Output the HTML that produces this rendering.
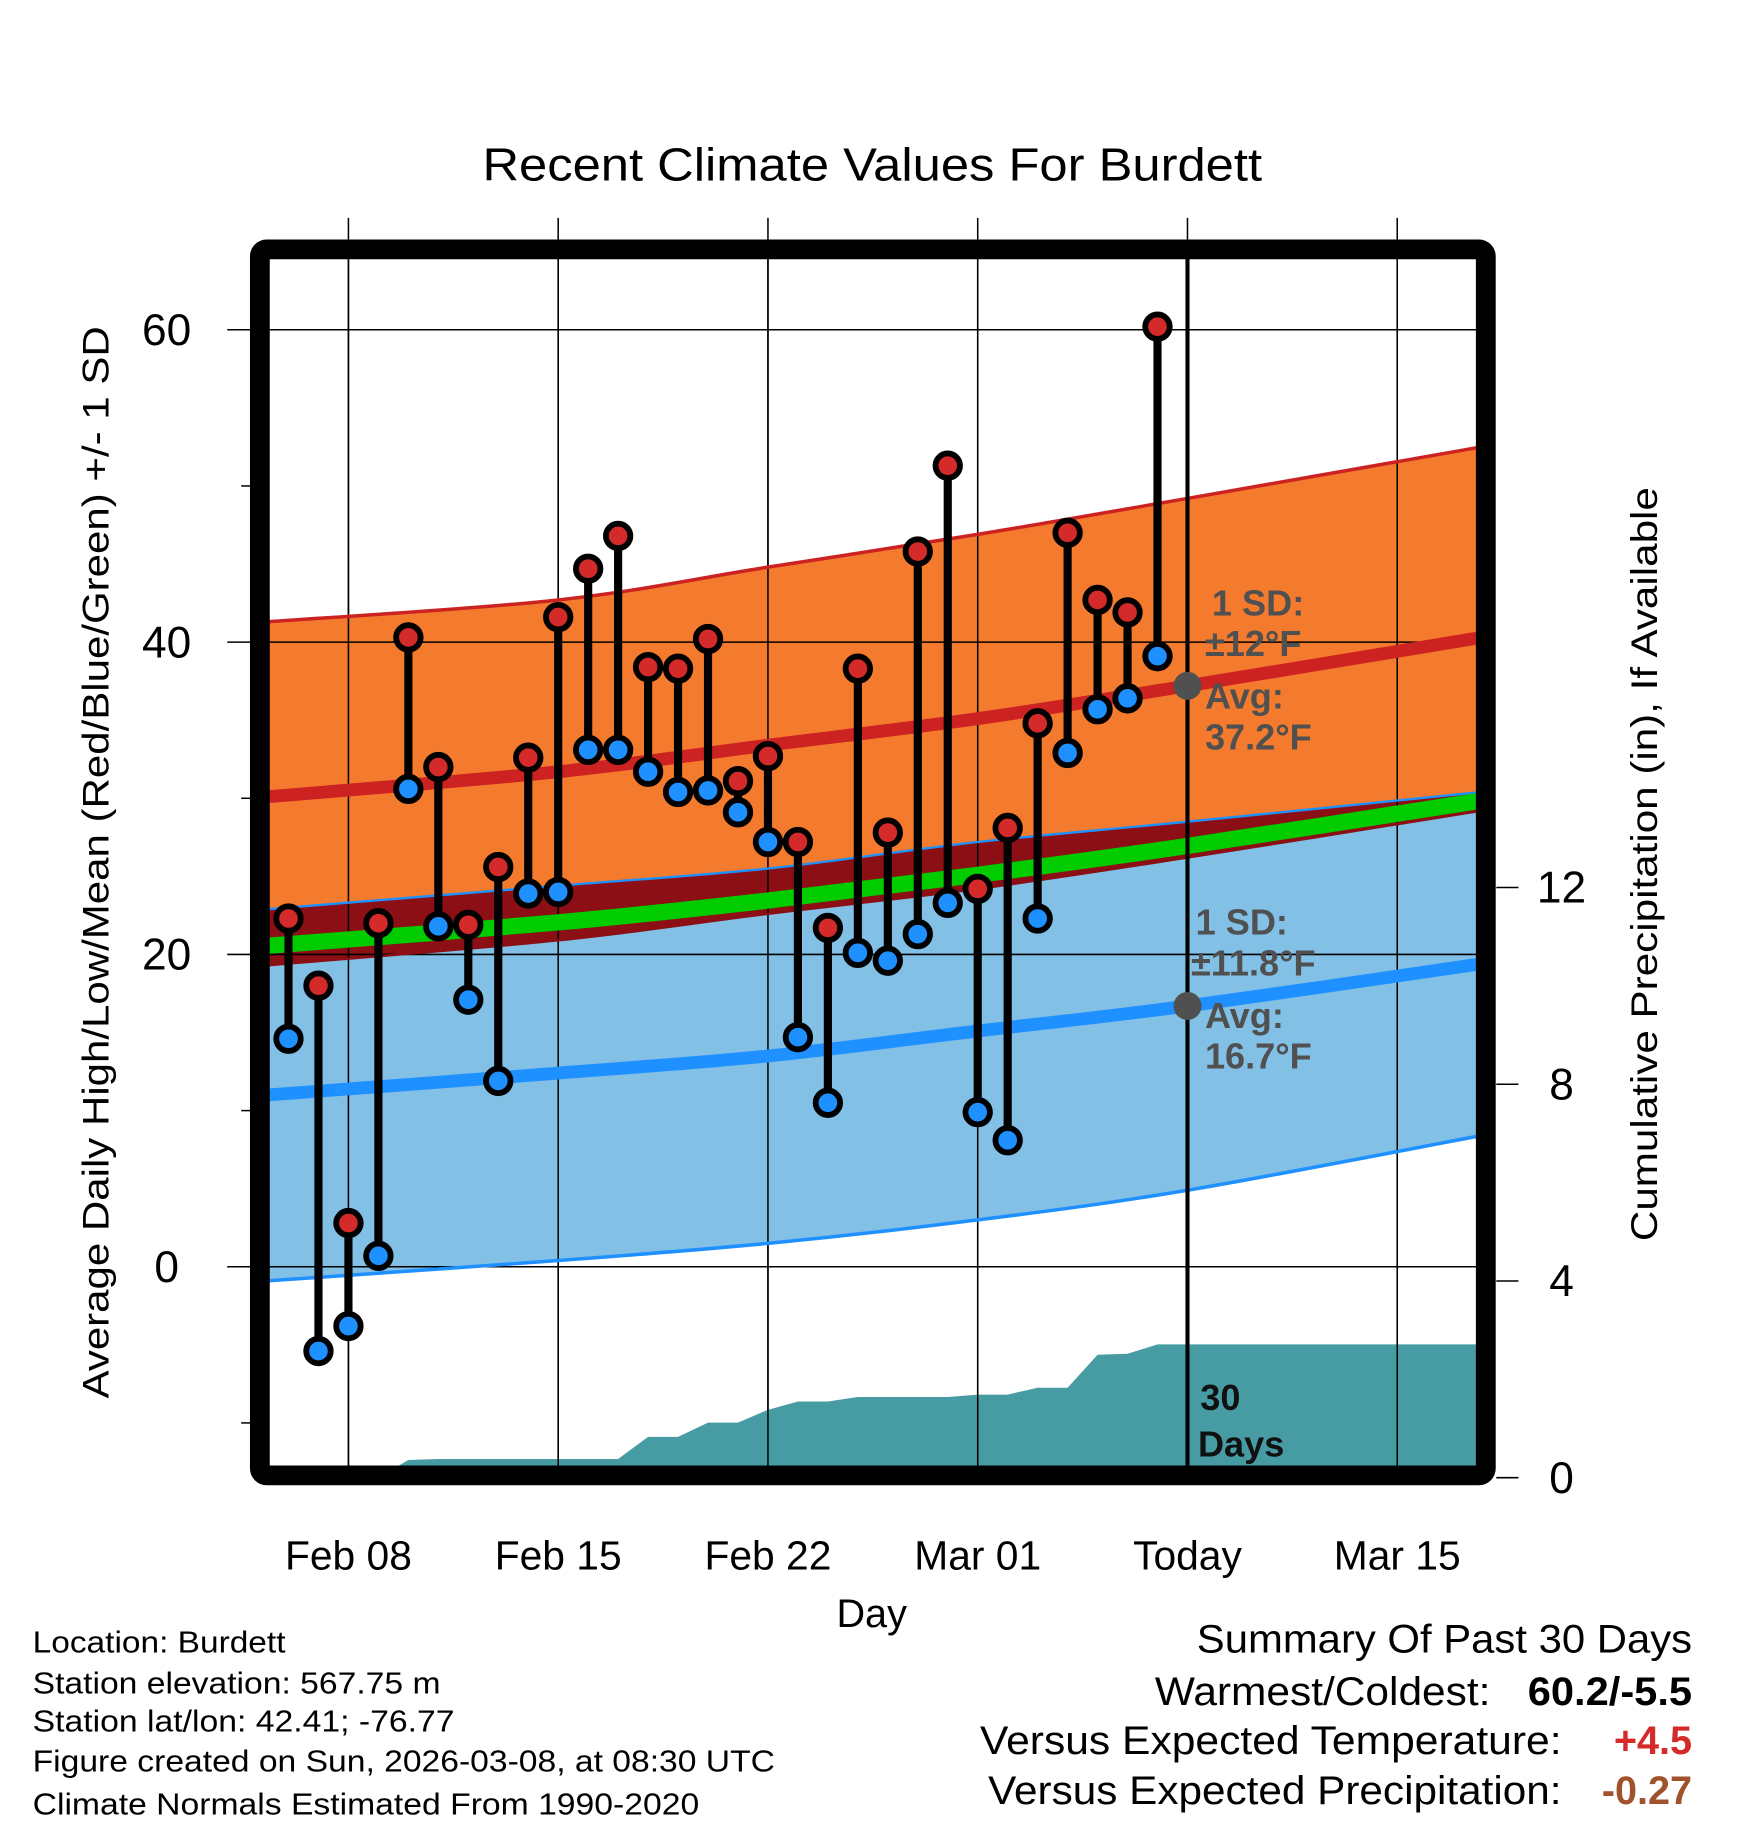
<!DOCTYPE html>
<html><head><meta charset="utf-8"><style>
html,body{margin:0;padding:0;background:#fff;}
svg{display:block;font-family:"Liberation Sans",Arial,sans-serif;}
</style></head><body>
<svg id="chart" width="1748" height="1828" viewBox="0 0 1500 1568.6" preserveAspectRatio="none" xmlns="http://www.w3.org/2000/svg">
<defs><clipPath id="plotclip"><rect x="231" y="222" width="1037" height="1037"/></clipPath></defs>
<rect x="0" y="0" width="1500" height="1568.6" fill="#fff"/>
<text x="414" y="155" font-size="40" textLength="669" lengthAdjust="spacingAndGlyphs">Recent Climate Values For Burdett</text>
<g id="grid"></g>
<g id="plot" clip-path="url(#plotclip)"></g>
<g id="overlay"></g>
<rect x="223" y="214" width="1052" height="1052" rx="6" fill="none" stroke="#000" stroke-width="17"/>
<g id="marks"></g>
<g id="axes"></g>
<text transform="translate(93,1200) rotate(-90)" font-size="32" textLength="920" lengthAdjust="spacingAndGlyphs">Average Daily High/Low/Mean (Red/Blue/Green) +/- 1 SD</text>
<text transform="translate(1422,1065) rotate(-90)" font-size="32" textLength="647" lengthAdjust="spacingAndGlyphs">Cumulative Precipitation (in), If Available</text>
<text x="748" y="1396" font-size="34" text-anchor="middle">Day</text>
<g font-size="26">
<text x="28" y="1418" textLength="217" lengthAdjust="spacingAndGlyphs">Location: Burdett</text>
<text x="28" y="1453" textLength="350" lengthAdjust="spacingAndGlyphs">Station elevation: 567.75 m</text>
<text x="28" y="1486" textLength="362" lengthAdjust="spacingAndGlyphs">Station lat/lon: 42.41; -76.77</text>
<text x="28" y="1520" textLength="637" lengthAdjust="spacingAndGlyphs">Figure created on Sun, 2026-03-08, at 08:30 UTC</text>
<text x="28" y="1557" textLength="572" lengthAdjust="spacingAndGlyphs">Climate Normals Estimated From 1990-2020</text>
</g>
<g font-size="34">
<text x="1027" y="1418" textLength="425" lengthAdjust="spacingAndGlyphs">Summary Of Past 30 Days</text>
<text x="991" y="1463" textLength="288" lengthAdjust="spacingAndGlyphs">Warmest/Coldest:</text>
<text x="1311" y="1463" font-weight="bold" textLength="141" lengthAdjust="spacingAndGlyphs">60.2/-5.5</text>
<text x="841" y="1505" textLength="499" lengthAdjust="spacingAndGlyphs">Versus Expected Temperature:</text>
<text x="1452" y="1505" text-anchor="end" font-weight="bold" fill="#d42a2a">+4.5</text>
<text x="848" y="1548" textLength="492" lengthAdjust="spacingAndGlyphs">Versus Expected Precipitation:</text>
<text x="1452" y="1548" text-anchor="end" font-weight="bold" fill="#a0522d">-0.27</text>
</g>
</svg>
<script>
// ---- data ----
const days = [6,7,8,9,10,11,12,13,14,15,16,17,18,19,20,21,22,23,24,25,26,27,28,29,30,31,32,33,34,35];
const highs = [22.3,18.0,2.8,22.0,40.3,32.0,21.9,25.6,32.6,41.6,44.7,46.8,38.4,38.3,40.2,31.1,32.7,27.2,21.7,38.3,27.8,45.8,51.3,24.2,28.1,34.8,47.0,42.7,41.9,60.2];
const lows = [14.6,-5.4,-3.8,0.7,30.6,21.8,17.1,11.9,23.9,24.0,33.1,33.1,31.7,30.4,30.5,29.1,27.2,14.7,10.5,20.1,19.6,21.3,23.3,9.9,8.1,22.3,32.9,35.7,36.4,39.1];
const precip = [0,0,0,0,0.36,0.38,0.38,0.38,0.38,0.38,0.38,0.38,0.83,0.83,1.12,1.12,1.38,1.55,1.55,1.64,1.64,1.64,1.64,1.69,1.69,1.83,1.83,2.5,2.52,2.71];
const normDays = [5.3,15,22,29,36,45.8];
const normHigh = [30.1,31.7,33.4,35.1,37.2,40.3];
const normHighSDUp = [11.2,11.0,11.4,11.8,12.0,12.2];
const normHighSDDown = [10.8,10.8,10.8,10.9,11.0,11.1];
const normLow = [11.0,12.4,13.5,15.1,16.7,19.4];
const normLowSD = [11.9,12.0,12.0,12.1,11.8,11.0];
const xTickDays = [8,15,22,29,36,43];
const xTickLabels = ["Feb 08","Feb 15","Feb 22","Mar 01","Today","Mar 15"];
const yTicks = [0,20,40,60];
const yMinor = [-10,10,30,50];
const y2Ticks = [0,4,8,12];
const todayDay = 36;

// ---- scales ----
const X = d => 299 + (d - 8) * 180 / 7;
const Y = t => 1087 - t * 13.4;
const Y2 = p => 1268 - p * 42.2;
const NS = "http://www.w3.org/2000/svg";
function mk(tag, attrs, parent){ const e=document.createElementNS(NS,tag); for(const k in attrs) e.setAttribute(k,attrs[k]); parent.appendChild(e); return e; }
const grid=document.getElementById('grid'), plot=document.getElementById('plot'), marks=document.getElementById('marks'), axes=document.getElementById('axes'), overlay=document.getElementById('overlay');

function smooth(pts){
  let d=`M${pts[0][0]},${pts[0][1]}`;
  for(let i=0;i<pts.length-1;i++){
    const p0=pts[Math.max(i-1,0)],p1=pts[i],p2=pts[i+1],p3=pts[Math.min(i+2,pts.length-1)];
    const c1=[p1[0]+(p2[0]-p0[0])/6,p1[1]+(p2[1]-p0[1])/6];
    const c2=[p2[0]-(p3[0]-p1[0])/6,p2[1]-(p3[1]-p1[1])/6];
    d+=` C${c1[0]},${c1[1]} ${c2[0]},${c2[1]} ${p2[0]},${p2[1]}`;
  }
  return d;
}
function smoothRev(pts){ const r=pts.slice().reverse(); return smooth(r).replace(/^M/,'L'); }
function curve(vals){ return normDays.map((d,i)=>[X(d),Y(vals[i])]); }
function band(lo,hi,fill,name){
  const el=mk('path',{d:smooth(curve(hi))+' '+smoothRev(curve(lo))+' Z',fill:fill},plot);
  
  
  return el;
}
const hiUp=normHigh.map((v,i)=>v+normHighSDUp[i]), hiLo=normHigh.map((v,i)=>v-normHighSDDown[i]);
const loUp=normLow.map((v,i)=>v+normLowSD[i]), loLo=normLow.map((v,i)=>v-normLowSD[i]);
const mean=normHigh.map((v,i)=>(v+normLow[i])/2);

band(hiLo,hiUp,'#f47a2d','high-sd-band');
band(loLo,loUp,'#82c0e6','low-sd-band');
band(hiLo,loUp,'#8b0f14','overlap-band');

{
  let d=`M${X(days[0])},${Y2(0)}`;
  days.forEach((dy,i)=>{ d+=` L${X(dy)},${Y2(precip[i])}`; });
  d+=` L${X(46)},${Y2(precip[precip.length-1])} L${X(46)},${Y2(-1)} L${X(days[0])},${Y2(-1)} Z`;
  const el=mk('path',{d:d,fill:'#479ca4'},plot);
  
  
}

xTickDays.forEach(d=>{
  const el=mk('line',{x1:X(d),x2:X(d),y1:187,y2:1262,stroke:'#000','stroke-width':1.3},grid);
  
  
});
yTicks.forEach(t=>{
  const el=mk('line',{x1:195,x2:1270,y1:Y(t),y2:Y(t),stroke:'#000','stroke-width':1.3},overlay);
  
  
});
xTickDays.forEach(d=>{
  const el=mk('line',{x1:X(d),x2:X(d),y1:222,y2:1259,stroke:'#000','stroke-width':1.3},overlay);
  
  
});

const og=mk('g',{'clip-path':'url(#plotclip)'},overlay);
function line(vals,color,w,name){
  const el=mk('path',{d:smooth(curve(vals)),fill:'none',stroke:color,'stroke-width':w},og);
  
  
}
line(hiUp,'#cc2222',3,'high-upper-line');
line(hiLo,'#8b0f14',2,'high-lower-line');
line(loUp,'#1e90ff',2,'low-upper-line');
line(loLo,'#1e90ff',3,'low-lower-line');
line(mean,'#00cc00',14,'mean-line');
line(normHigh,'#cc2222',11,'normal-high-line');
line(normLow,'#1e90ff',11,'normal-low-line');

{
  const el=mk('line',{x1:X(todayDay),x2:X(todayDay),y1:222,y2:1260,stroke:'#000','stroke-width':3.5},overlay);
  
  
  const hiToday=normHigh[4], loToday=normLow[4];
  const c1=mk('circle',{cx:X(todayDay),cy:Y(hiToday),r:12,fill:'#505050'},overlay);
  
  
  const c2=mk('circle',{cx:X(todayDay),cy:Y(loToday),r:12,fill:'#505050'},overlay);
  
  
  const txt=[["1 SD:",1040,528,'sd-high-label'],["\u00B112\u00B0F",1034,563,'sd-high-value'],["Avg:",1034,608,'avg-high-label'],["37.2\u00B0F",1034,643,'avg-high-value'],
             ["1 SD:",1026,802,'sd-low-label'],["\u00B111.8\u00B0F",1022,837,'sd-low-value'],["Avg:",1034,882,'avg-low-label'],["16.7\u00B0F",1034,917,'avg-low-value']];
  txt.forEach(t=>{
    const el=mk('text',{x:t[1],y:t[2],'font-size':31,'font-weight':'bold',fill:'#505050'},overlay);
    el.textContent=t[0];
    
    
  });
  const a=mk('text',{x:1030,y:1210,'font-size':31,'font-weight':'bold',fill:'#111'},overlay); a.textContent='30';
  
  
  const b=mk('text',{x:1028,y:1250,'font-size':31,'font-weight':'bold',fill:'#111'},overlay); b.textContent='Days';
  
  
}

days.forEach((d,i)=>{
  const g=mk('g',{},marks);
  
  
  mk('line',{x1:X(d),x2:X(d),y1:Y(highs[i]),y2:Y(lows[i]),stroke:'#000','stroke-width':7},g);
  const h=mk('circle',{cx:X(d),cy:Y(highs[i]),r:10.5,fill:'#d42a2a',stroke:'#000','stroke-width':5},g);
  
  
  const l=mk('circle',{cx:X(d),cy:Y(lows[i]),r:10.5,fill:'#1e90ff',stroke:'#000','stroke-width':5},g);
  
  
});

yTicks.forEach(t=>{
  const el=mk('text',{x:143,y:Y(t)+13,'font-size':38,'text-anchor':'middle'},axes); el.textContent=String(t);
  
  
});
yMinor.forEach(t=>{
  const el=mk('line',{x1:207,x2:215,y1:Y(t),y2:Y(t),stroke:'#000','stroke-width':1.3},axes);
  
  
});
y2Ticks.forEach(p=>{
  const el=mk('line',{x1:1284,x2:1303,y1:Y2(p),y2:Y2(p),stroke:'#000','stroke-width':1.3},axes);
  
  
  const tx=mk('text',{x:1340,y:Y2(p)+13,'font-size':38,'text-anchor':'middle'},axes); tx.textContent=String(p);
  
  
});
xTickDays.forEach((d,i)=>{
  const el=mk('text',{x:X(d),y:1347,'font-size':35,'text-anchor':'middle'},axes); el.textContent=xTickLabels[i];
  
  
});
</script>
</body></html>
